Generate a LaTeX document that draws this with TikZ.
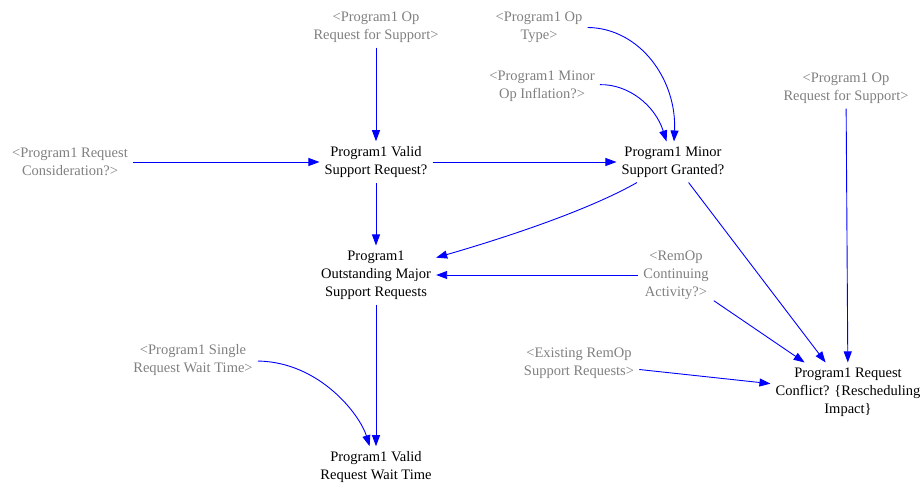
\documentclass[tikz,border=0pt]{standalone}
\usepackage{fontspec}
\setmainfont{Liberation Serif}
\usetikzlibrary{arrows.meta}
\definecolor{shadowgray}{RGB}{128,128,128}
\definecolor{linkblue}{RGB}{0,0,255}
\begin{document}
\begin{tikzpicture}[x=1pt,y=-1pt,
    var/.style={align=center,inner sep=5pt,font=\fontsize{14.5}{18}\selectfont},
    ghost/.style={var,text=shadowgray},
    link/.style={draw=linkblue,line width=0.9pt,-{Triangle[length=11pt,width=8pt]}}]
  \useasboundingbox (0,0) rectangle (920,484);
  \draw
    (376,27) node[ghost] (opreqA){<Program1 Op\\Request for Support>}
    (539,27) node[ghost] (optype){<Program1 Op\\Type>}
    (542,86) node[ghost] (minorinfl){<Program1 Minor\\Op Inflation?>}
    (846,88) node[ghost] (opreqB){<Program1 Op\\Request for Support>}
    (70,162) node[ghost] (reqcons){<Program1 Request\\Consideration?>}
    (376,162) node[var] (validsup){Program1 Valid\\Support Request?}
    (673,162) node[var] (minorgr){Program1 Minor\\Support Granted?}
    (376,275) node[var] (outstanding){Program1\\Outstanding Major\\Support Requests}
    (676,275) node[ghost] (remop){<RemOp\\Continuing\\Activity?>}
    (193,360) node[ghost] (singlewait){<Program1 Single\\Request Wait Time>}
    (579,363) node[ghost] (existing){<Existing RemOp\\Support Requests>}
    (848,392) node[var] (conflict){Program1 Request\\Conflict? \{Rescheduling\\Impact\}}
    (376,467) node[var] (validwait){Program1 Valid\\Request Wait Time};
  \begin{scope}[link]
    \draw (opreqA) to (validsup);
    \draw (reqcons) to (validsup);
    \draw (validsup) to (minorgr);
    \draw (validsup) to (outstanding);
    \draw (optype) .. controls (640,28) and (677,80) .. (minorgr);
    \draw (minorinfl) .. controls (628,84) and (655,105) .. (minorgr);
    \draw (minorgr) .. controls (580,215) and (480,245) .. (outstanding);
    \draw (remop) to (outstanding);
    \draw (minorgr) to (conflict);
    \draw (remop) to (conflict);
    \draw (opreqB) to (conflict);
    \draw (existing) to (conflict);
    \draw (outstanding) to (validwait);
    \draw (singlewait) .. controls (320,362) and (360,415) .. (validwait);
  \end{scope}
\end{tikzpicture}
\end{document}
